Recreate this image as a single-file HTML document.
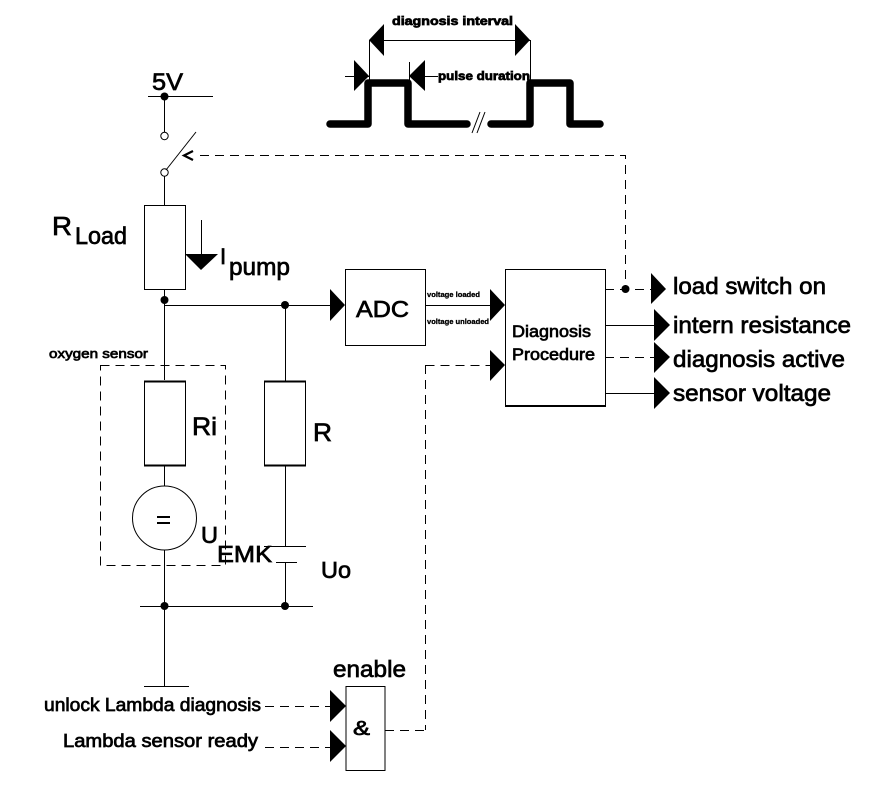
<!DOCTYPE html>
<html><head><meta charset="utf-8"><style>
html,body{margin:0;padding:0;background:#fff}
svg{display:block}
text{font-family:"Liberation Sans",Arial,sans-serif;fill:#000;stroke:#000;stroke-width:.7}
.l{stroke:#000;stroke-width:1;fill:none;shape-rendering:crispEdges}
.d{stroke:#000;stroke-width:1;fill:none;stroke-dasharray:9 6;shape-rendering:crispEdges}
.a{fill:#000;stroke:none}
</style></head><body>
<svg width="880" height="796" viewBox="0 0 880 796" xmlns="http://www.w3.org/2000/svg">
<rect width="880" height="796" fill="#fff"/>
<!-- timing -->
<path d="M330 124H368V83H408V124H467M491 124H530V83H570V124H600" fill="none" stroke="#000" stroke-width="7.500" stroke-linejoin="round" stroke-linecap="round"/>
<path d="M472 133L480 112M477 133L485 112" stroke="#000" stroke-width="1" fill="none"/>
<path class="l" d="M369.500 40V80M530.500 40V82M369 40.500H530M345 76.500H369M409 76.500H438M409.500 62V80"/>
<polygon class="a" points="369,40 384,24 384,56"/>
<polygon class="a" points="530,40 515,24 515,56"/>
<polygon class="a" points="369,76 354,60 354,91"/>
<polygon class="a" points="409,76 425,60 425,91"/>
<text x="392" y="25" font-size="12" font-weight="bold" textLength="121" lengthAdjust="spacingAndGlyphs">diagnosis interval</text>
<text x="438" y="80" font-size="12" font-weight="bold" textLength="92" lengthAdjust="spacingAndGlyphs">pulse duration</text>
<!-- supply -->
<path class="l" d="M148 96.500H213M164.500 96V132M164.500 176V205M164.500 289V380"/>
<circle cx="164.500" cy="96.500" r="4"/>
<text x="152" y="90" font-size="24" textLength="31" lengthAdjust="spacingAndGlyphs">5V</text>
<circle cx="164.500" cy="136" r="3.700" fill="#fff" stroke="#000"/>
<circle cx="164.500" cy="172.500" r="3.700" fill="#fff" stroke="#000"/>
<path d="M166 170L196 132" stroke="#000" stroke-width="1" fill="none"/>
<path d="M193 151L184 155.500L193 160" stroke="#000" stroke-width="2.200" fill="none"/>
<path class="d" d="M200 155.500H625.500V289"/>
<rect class="l" x="144.500" y="205.500" width="41" height="84"/>
<text x="52" y="235" font-size="26" textLength="20" lengthAdjust="spacingAndGlyphs">R</text>
<text x="75" y="244" font-size="24" textLength="52" lengthAdjust="spacingAndGlyphs">Load</text>
<path class="l" d="M201.500 220V255"/>
<polygon class="a" points="185,254 218,254 201,270"/>
<text x="220" y="264" font-size="22">I</text>
<text x="229" y="275" font-size="24" textLength="61" lengthAdjust="spacingAndGlyphs">pump</text>
<circle cx="164.500" cy="300" r="4"/>
<circle cx="285" cy="305" r="4"/>
<path class="l" d="M164 305.500H331M285.500 305V381"/>
<polygon class="a" points="345,305 330,289 330,321"/>
<!-- ADC -->
<rect class="l" x="345.500" y="269.500" width="80" height="76"/>
<text x="356" y="317" font-size="23" textLength="53" lengthAdjust="spacingAndGlyphs">ADC</text>
<path class="l" d="M425 305.500H491"/>
<polygon class="a" points="505,305 490,289 490,321"/>
<text x="427" y="297" font-size="7.500" font-weight="bold" textLength="53" lengthAdjust="spacingAndGlyphs" style="stroke-width:.3">voltage loaded</text>
<text x="427" y="324" font-size="7.500" font-weight="bold" textLength="62" lengthAdjust="spacingAndGlyphs" style="stroke-width:.3">voltage unloaded</text>
<!-- procedure -->
<rect class="l" x="505.500" y="269.500" width="100" height="136"/>
<path class="l" d="M505 406.500H606"/>
<text x="512" y="337" font-size="16.500" textLength="79" lengthAdjust="spacingAndGlyphs">Diagnosis</text>
<text x="512" y="360" font-size="16.500" textLength="83" lengthAdjust="spacingAndGlyphs">Procedure</text>
<path class="d" d="M425.500 365.500H491M425.500 365V730"/>
<polygon class="a" points="505,365 490,350 490,381"/>
<!-- outputs -->
<path class="d" d="M605 289.500H651"/>
<circle cx="625.500" cy="289" r="4"/>
<polygon class="a" points="666,289 651,273 651,304"/>
<path class="l" d="M605 325.500H655M605 393.500H655"/>
<path class="d" d="M605 357.500H655"/>
<polygon class="a" points="670,325 654,309 654,341"/>
<polygon class="a" points="670,357 654,342 654,373"/>
<polygon class="a" points="670,393 654,377 654,409"/>
<text x="673" y="294" font-size="23" textLength="153" lengthAdjust="spacingAndGlyphs">load switch on</text>
<text x="673" y="333" font-size="23" textLength="178" lengthAdjust="spacingAndGlyphs">intern resistance</text>
<text x="673" y="367" font-size="23" textLength="172" lengthAdjust="spacingAndGlyphs">diagnosis active</text>
<text x="673" y="401" font-size="23" textLength="158" lengthAdjust="spacingAndGlyphs">sensor voltage</text>
<!-- sensor -->
<text x="49" y="358" font-size="13" textLength="99" lengthAdjust="spacingAndGlyphs">oxygen sensor</text>
<rect class="d" x="100.500" y="365.500" width="125" height="200"/>
<rect class="l" x="144.500" y="381.500" width="41" height="84"/>
<rect class="l" x="264.500" y="381.500" width="41" height="84"/>
<path class="l" d="M144 381.500H186M144 465.500H186M264 381.500H306M264 465.500H306" style="stroke-width:2"/>
<text x="192" y="435" font-size="25" textLength="25" lengthAdjust="spacingAndGlyphs">Ri</text>
<text x="313" y="441" font-size="25" textLength="19" lengthAdjust="spacingAndGlyphs">R</text>
<path class="l" d="M164.500 465V486M164.500 550V680"/>
<circle cx="164.500" cy="518" r="32" fill="#fff" stroke="#000"/>
<rect x="157" y="516" width="13" height="2" class="a"/>
<rect x="157" y="522" width="13" height="2" class="a"/>
<text x="201" y="543" font-size="23" textLength="17" lengthAdjust="spacingAndGlyphs">U</text>
<text x="217" y="562" font-size="23" textLength="55" lengthAdjust="spacingAndGlyphs">EMK</text>
<text x="321" y="578" font-size="23" textLength="30" lengthAdjust="spacingAndGlyphs">Uo</text>
<path class="l" d="M285.500 465V546M264 546.500H306M276 562.500H297M285.500 562V606M140 606.500H313M144 686.500H189M164.500 606V686"/>
<circle cx="164.500" cy="606" r="4"/>
<circle cx="285" cy="606" r="4"/>
<!-- and -->
<text x="333" y="677" font-size="23" textLength="73" lengthAdjust="spacingAndGlyphs">enable</text>
<rect class="l" x="346" y="686.500" width="39" height="84"/>
<polygon class="a" points="346,706 330,690 330,722"/>
<polygon class="a" points="346,746 330,730 330,762"/>
<path class="d" d="M265 706.500H331M265 747.500H331M385 730.500H425"/>
<text x="44" y="711" font-size="18" textLength="217" lengthAdjust="spacingAndGlyphs">unlock Lambda diagnosis</text>
<text x="63" y="747" font-size="18" textLength="195" lengthAdjust="spacingAndGlyphs">Lambda sensor ready</text>
<text x="353" y="735" font-size="20" textLength="17" lengthAdjust="spacingAndGlyphs">&amp;</text>
</svg>
</body></html>
